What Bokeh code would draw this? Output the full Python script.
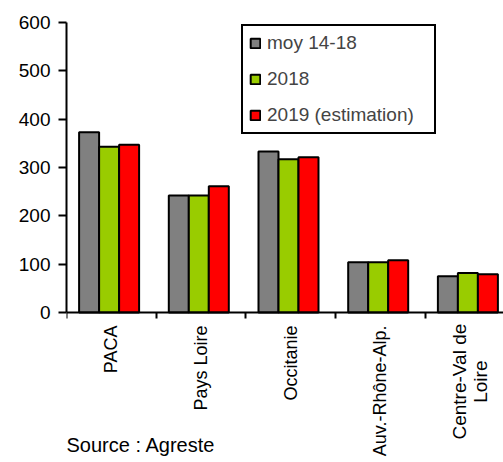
from bokeh.plotting import figure
from bokeh.models import (ColumnDataSource, Range1d, FixedTicker, Legend, LegendItem,
                          Label)
from bokeh.core.properties import value
from bokeh.transform import dodge
from bokeh.embed import file_html
from bokeh.resources import INLINE
import math

regions = ["PACA", "Pays Loire", "Occitanie", "Auv.-Rhône-Alp.", "Centre-Val de\nLoire"]
moy_14_18 = [373, 242, 333, 104, 75]
y2018 = [343, 242, 317, 104, 82]
y2019_est = [347, 261, 321, 108, 79]
series_names = ["moy 14-18", "2018", "2019 (estimation)"]
colors = ["#808080", "#99CC00", "#FF0000"]
y_ticks = [0, 100, 200, 300, 400, 500, 600]
source_text = "Source : Agreste"

FONT = "Liberation Sans"
centers = [i + 0.5 for i in range(len(regions))]
bounds = [float(i) for i in range(len(regions) + 1)]

src = ColumnDataSource(dict(x=centers, a=moy_14_18, b=y2018, c=y2019_est))

# frame covers the area below the x axis too, so that annotations are not clipped
p = figure(width=503, height=462, output_backend="svg", toolbar_location=None,
           x_range=Range1d(0, 4.872), y_range=Range1d(-310.3, 600),
           min_border_left=66, min_border_right=0, min_border_top=22,
           min_border_bottom=0, outline_line_color=None)

bw = 0.223
offs = [-0.248, -0.025, 0.198]
renderers = []
for key, off, col in zip(["a", "b", "c"], offs, colors):
    r = p.vbar(x=dodge("x", off), top=key, width=bw, source=src,
               fill_color=col, line_color="black", line_width=2)
    renderers.append(r)

p.xgrid.visible = False
p.ygrid.visible = False

# y axis
p.yaxis.ticker = FixedTicker(ticks=y_ticks)
p.yaxis.bounds = (0, 600)
p.yaxis.axis_line_width = 2
p.yaxis.axis_line_color = "black"
p.yaxis.major_tick_in = 0
p.yaxis.major_tick_out = 8
p.yaxis.major_tick_line_width = 2
p.yaxis.minor_tick_line_color = None
p.yaxis.major_label_text_font = FONT
p.yaxis.major_label_text_font_size = "19px"
p.yaxis.major_label_text_color = "black"
p.yaxis.major_label_standoff = 8

# x axis at y = 0
overrides = {c: r for c, r in zip(centers, regions)}
overrides[centers[-1]] = ""
p.xaxis.fixed_location = 0
p.xaxis.ticker = FixedTicker(ticks=centers, minor_ticks=bounds)
p.xaxis.major_label_overrides = overrides
p.xaxis.axis_line_width = 2
p.xaxis.axis_line_color = "black"
p.xaxis.major_tick_in = 0
p.xaxis.major_tick_out = 0
p.xaxis.minor_tick_in = 0
p.xaxis.minor_tick_out = 6
p.xaxis.minor_tick_line_width = 2
p.xaxis.minor_tick_line_color = "black"
p.xaxis.major_label_orientation = math.pi / 2
p.xaxis.major_label_text_font = FONT
p.xaxis.major_label_text_font_size = "18px"
p.xaxis.major_label_text_color = "black"
p.xaxis.major_label_standoff = 7

# two-line category label, lines centred
p.text(x=[centers[-1]], y=[-143], text=[regions[-1]], angle=math.pi / 2,
       text_align="center", text_baseline="middle", text_font=value(FONT),
       text_font_size="19px", text_color="black", text_line_height=1.0)

legend = Legend(items=[LegendItem(label=n, renderers=[r]) for n, r in zip(series_names, renderers)],
                location=(175, 328), orientation="vertical",
                border_line_color="black", border_line_width=2, border_line_alpha=1,
                padding=6, spacing=14, label_height=21, label_width=161,
                glyph_width=12, glyph_height=12, label_standoff=6,
                label_text_font=FONT, label_text_font_size="19px",
                background_fill_alpha=1, margin=0)
p.add_layout(legend, "center")

src_label = Label(x=0, y=-275, x_units="data", y_units="data", text=source_text,
                  text_font=FONT, text_font_size="20px", text_baseline="middle",
                  text_color="black")
p.add_layout(src_label)

open("out.html", "w").write(file_html(p, INLINE))
